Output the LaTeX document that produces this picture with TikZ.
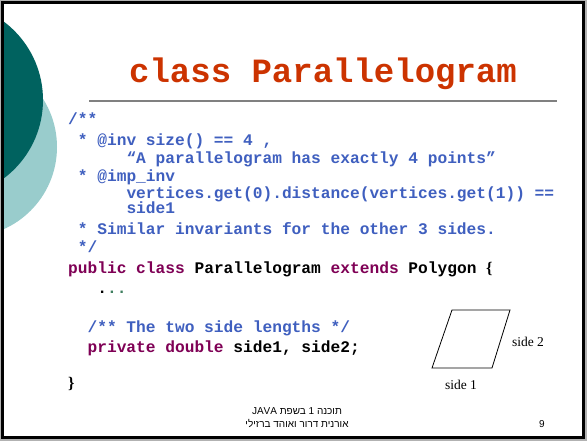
\documentclass[tikz,border=0pt]{standalone}
\usepackage{fontspec}
\newfontfamily\codefont{Liberation Mono}
\newfontfamily\serfont{Liberation Serif}
\newfontfamily\hebfont[Script=Hebrew]{Liberation Sans}
\TeXXeTstate=1
\definecolor{titlered}{HTML}{CC3300}
\definecolor{jdoc}{HTML}{3F5FBF}
\definecolor{kw}{HTML}{7F0055}
\definecolor{dotgreen}{HTML}{3F7F5F}
\definecolor{tealdark}{HTML}{00625F}
\definecolor{teallight}{HTML}{99CCCC}
\tikzset{
  codeline/.style={anchor=base west, inner sep=0pt, font=\fontsize{16.2}{18}\codefont\bfseries},
  jdocline/.style={codeline, text=jdoc},
  sidelabel/.style={anchor=base, inner sep=0pt, font=\fontsize{13.5}{15}\serfont},
  footline/.style={anchor=base, inner sep=0pt, font=\fontsize{10}{12}\hebfont}
}
\newcommand{\kwd}[1]{\textcolor{kw}{#1}}
\begin{document}
\begin{tikzpicture}[x=1pt, y=-1pt]
            \useasboundingbox (0, 0) rectangle (587, 441);
            \fill[white] (0, 0) rectangle (587, 441);
            \fill[teallight] (-33, 147) circle (90);
            \fill[tealdark] (-55, 100) circle (98);
            \draw[gray!60, line width=1.5pt] (0.8, 0.8) rectangle (585.8, 440.2);
            \draw[black, line width=2.5pt] (2.5, 2.7) rectangle (583.5, 437.6);
            \node[anchor=base, inner sep=0pt, text=titlered, font=\fontsize{34}{36}\codefont\bfseries] (title) at (323, 83) {class Parallelogram};
            \draw[gray, line width=1.5pt] (89, 101) -- (557, 101);
            \node[jdocline] (doc1) at (68, 125) {/**};
            \node[jdocline] (doc2) at (77.7, 146) {* @inv size() == 4 ,};
            \node[jdocline] (doc3) at (126.3, 164) {“A parallelogram has exactly 4 points”};
            \node[jdocline] (doc4) at (77.7, 182) {* @imp\_inv};
            \node[jdocline] (doc5) at (126.3, 199) {vertices.get(0).distance(vertices.get(1)) ==};
            \node[jdocline] (doc6) at (126.3, 214) {side1};
            \node[jdocline] (doc7) at (77.7, 234) {* Similar invariants for the other 3 sides.};
            \node[jdocline] (doc8) at (77.7, 252) {*/};
            \node[codeline] (decl) at (68, 273) {\kwd{public class} Parallelogram \kwd{extends} Polygon {\serfont\{}};
            \node[codeline] (dots) at (97.2, 293) {.\textcolor{dotgreen}{..}};
            \node[jdocline] (doc9) at (87.4, 332) {/** The two side lengths */};
            \node[codeline] (fields) at (87.4, 352) {\kwd{private double} side1, side2;};
            \node[codeline] (close) at (68, 388) {{\serfont\}}};
            \coordinate (tl) at (452, 310);
            \coordinate (tr) at (510, 310);
            \coordinate (br) at (492, 368);
            \coordinate (bl) at (432, 368);
            \draw[line width=0.8pt] (tl) -- (tr) -- (br) -- (bl) -- cycle;
            \node[sidelabel] (side2) at (528, 346) {side 2};
            \node[sidelabel] (side1) at (461, 389) {side 1};
            \node[footline] (foot1) at (297, 414) {\beginR תוכנה 1 בשפת \beginL JAVA\endL\endR};
            \node[footline] (foot2) at (297, 427) {\beginR אורנית דרור ואוהד ברזילי\endR};
            \node[footline] (page) at (542, 427) {9};
        \end{tikzpicture}
\end{document}
